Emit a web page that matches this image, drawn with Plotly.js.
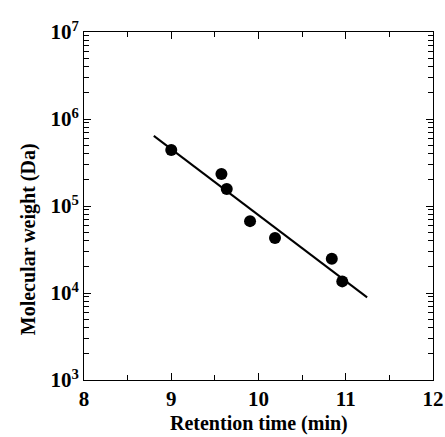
<!DOCTYPE html>
<html><head><meta charset="utf-8">
<script src="https://cdn.plot.ly/plotly-3.0.1.min.js"></script>
<style>html,body{margin:0;padding:0;background:#fff}#c{width:445px;height:437px}</style>
</head><body><div id="c"></div>
<script>
const retentionTime = [9.0, 9.575, 9.636, 9.903, 10.189, 10.84, 10.96];
const molecularWeight = [440000, 233000, 157000, 67000, 43000, 24800, 13600];
const fitTime = [8.80, 11.245];
const fitWeight = [640000, 8900];
const xTickVals = [8, 9, 10, 11, 12];
const yTickVals = [1e3, 1e4, 1e5, 1e6, 1e7];
const yTickText = ['10<sup>3</sup>', '10<sup>4</sup>', '10<sup>5</sup>', '10<sup>6</sup>', '10<sup>7</sup>'];

const font = {family: 'Liberation Serif, Times New Roman, serif', color: '#000'};
const traces = [
  {x: fitTime, y: fitWeight, mode: 'lines', line: {color: '#000', width: 2}, hoverinfo: 'skip'},
  {x: retentionTime, y: molecularWeight, mode: 'markers', marker: {color: '#000', size: 12}}
];
const layout = {
  width: 445, height: 437,
  margin: {l: 84, r: 12, t: 32, b: 57},
  showlegend: false,
  paper_bgcolor: '#fff', plot_bgcolor: '#fff',
  font: Object.assign({size: 20}, font),
  xaxis: {
    range: [8, 12], tickvals: xTickVals, ticktext: xTickVals.map(String),
    ticks: 'inside', ticklen: 7, tickcolor: '#000',
    minor: {dtick: 0.5, ticks: 'inside', ticklen: 5, tickcolor: '#000', showgrid: false},
    showline: true, linecolor: '#000', linewidth: 1, mirror: 'allticks',
    showgrid: false, zeroline: false,
    tickfont: Object.assign({size: 21, weight: 'bold'}, font)
  },
  yaxis: {
    type: 'log', range: [3, 7], tickvals: yTickVals, ticktext: yTickText,
    ticks: 'inside', ticklen: 7, tickcolor: '#000',
    minor: {dtick: 'D1', ticks: 'inside', ticklen: 5, tickcolor: '#000', showgrid: false},
    showline: true, linecolor: '#000', linewidth: 1, mirror: 'allticks',
    showgrid: false, zeroline: false,
    tickfont: Object.assign({size: 21, weight: 'bold'}, font)
  },
  annotations: [{
    text: '<b>Molecular weight (Da)</b>', xref: 'paper', yref: 'paper',
    x: -0.16, y: 0.405, xanchor: 'center', yanchor: 'middle', textangle: -90,
    showarrow: false, font: Object.assign({size: 20}, font)
  }, {
    text: '<b>Retention time (min)</b>', xref: 'paper', yref: 'paper',
    x: 0.5, y: -0.124, xanchor: 'center', yanchor: 'middle',
    showarrow: false, font: Object.assign({size: 20}, font)
  }]
};
Plotly.newPlot('c', traces, layout, {staticPlot: true});
</script></body></html>
